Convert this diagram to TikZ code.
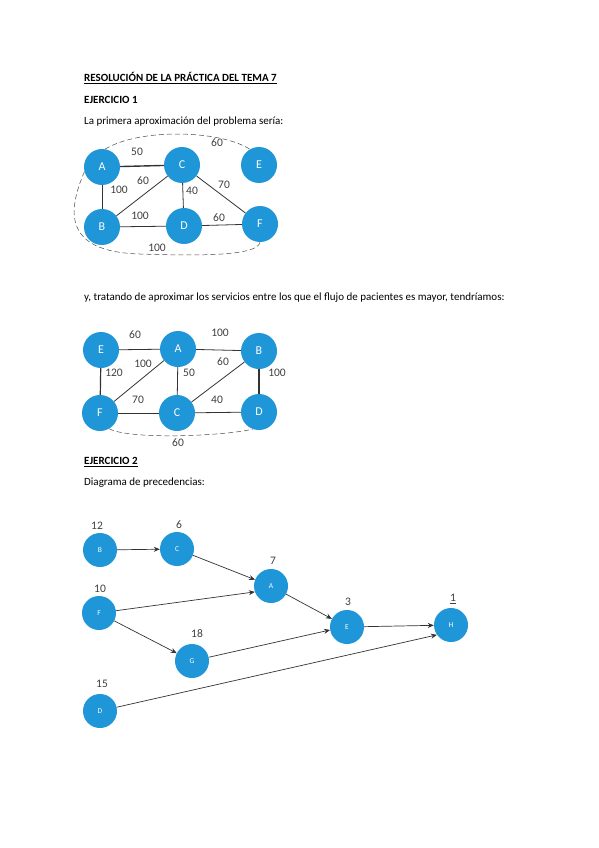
\documentclass[tikz,border=0pt]{standalone}
\usepackage{fontspec}
\setmainfont{Carlito}
\usetikzlibrary{arrows.meta}
\definecolor{nodeblue}{RGB}{30,150,215}
\begin{document}
\begin{tikzpicture}[x=1pt,y=-1pt,
  bignode/.style={circle, fill=nodeblue, minimum size=36pt, inner sep=0pt, text=white, font=\fontsize{12}{12}\selectfont},
  smallnode/.style={circle, fill=nodeblue, minimum size=34pt, inner sep=0pt, text=white, font=\fontsize{7.5}{7.5}\selectfont},
  edge/.style={draw=black!80, line width=0.8pt},
  lbl/.style={font=\fontsize{11.5}{11.5}\selectfont, text=black!75, inner sep=0pt},
  hdash/.style={draw=black!70, line width=0.5pt, dash pattern=on 5pt off 3pt},
  arr/.style={draw=black!80, line width=0.7pt, -{Stealth[length=6pt,width=5pt]}},
  txt/.style={anchor=west, inner sep=0pt, font=\fontsize{11}{13}\selectfont},
  btxt/.style={anchor=west, inner sep=0pt, font=\fontsize{11}{13}\selectfont\bfseries}]
\useasboundingbox[fill=white] (0,0) rectangle (599,848);

% texts
\node[btxt] (t1) at (84,78) {\underline{RESOLUCIÓN DE LA PRÁCTICA DEL TEMA 7}};
\node[btxt] (t2) at (84,100) {EJERCICIO 1};
\node[txt] (t3) at (84,122) {La primera aproximación del problema sería:};
\node[txt] (t4) at (84,298) {y, tratando de aproximar los servicios entre los que el flujo de pacientes es mayor, tendríamos:};
\node[btxt] (t5) at (84,462) {\underline{EJERCICIO 2}};
\node[txt] (t6) at (84,483) {Diagrama de precedencias:};

% graph 1
\node[bignode] (A1) at (102,167) {A};
\node[bignode] (C1) at (182,165) {C};
\node[bignode] (E1) at (259,165) {E};
\node[bignode] (B1) at (102,227) {B};
\node[bignode] (D1) at (184,226) {D};
\node[bignode] (F1) at (260,224) {F};
\draw[edge, line width=1.4pt] (A1) -- (C1);
\draw[edge] (A1) -- (B1);
\draw[edge] (B1) -- (C1);
\draw[edge] (C1) -- (D1);
\draw[edge] (C1) -- (F1);
\draw[edge] (B1) -- (D1);
\draw[edge] (D1) -- (F1);
\draw[hdash] (A1.80) .. controls (140,128) and (220,130) .. (E1.120);
\draw[hdash] (A1.195) .. controls (68,210) and (62,252) .. (140,254) .. controls (200,256) and (258,256) .. (F1.south);
\node[lbl] (l11) at (137,152) {50};
\node[lbl] (l12) at (217,143) {60};
\node[lbl] (l13) at (119,190) {100};
\node[lbl] (l14) at (143,181) {60};
\node[lbl] (l15) at (192,191) {40};
\node[lbl] (l16) at (224,185) {70};
\node[lbl] (l17) at (140,216) {100};
\node[lbl] (l18) at (219,218) {60};
\node[lbl] (l19) at (157,248) {100};

% graph 2
\node[bignode] (E2) at (101,350) {E};
\node[bignode] (A2) at (178,349) {A};
\node[bignode] (B2) at (259,351) {B};
\node[bignode] (F2) at (100,413) {F};
\node[bignode] (C2) at (177,413) {C};
\node[bignode] (D2) at (259,412) {D};
\draw[edge] (E2) -- (A2);
\draw[edge] (A2) -- (B2);
\draw[edge, line width=1.2pt] (E2) -- (F2);
\draw[edge] (F2) -- (A2);
\draw[edge] (A2) -- (C2);
\draw[edge] (C2) -- (B2);
\draw[edge, line width=1.4pt] (B2) -- (D2);
\draw[edge] (F2) -- (C2);
\draw[edge] (C2) -- (D2);
\draw[hdash] (F2.300) .. controls (130,440) and (225,436) .. (D2.250);
\node[lbl] (l21) at (135,335) {60};
\node[lbl] (l22) at (220,333) {100};
\node[lbl] (l23) at (114,373) {120};
\node[lbl] (l24) at (143,364) {100};
\node[lbl] (l25) at (189,373) {50};
\node[lbl] (l26) at (223,362) {60};
\node[lbl] (l27) at (277,373) {100};
\node[lbl] (l28) at (138,400) {70};
\node[lbl] (l29) at (217,400) {40};
\node[lbl] (l2a) at (178,443) {60};

% diagram 3
\node[smallnode] (B3) at (100,550) {B};
\node[smallnode] (C3) at (177,549) {C};
\node[smallnode] (A3) at (271,586) {A};
\node[smallnode] (F3) at (99,613) {F};
\node[smallnode] (E3) at (347,627) {E};
\node[smallnode] (H3) at (451,625) {H};
\node[smallnode] (G3) at (192,661) {G};
\node[smallnode] (D3) at (100,711) {D};
\node[lbl] (n1) at (97,526) {12};
\node[lbl] (n2) at (179,525) {6};
\node[lbl] (n3) at (273,561) {7};
\node[lbl] (n4) at (100,589) {10};
\node[lbl] (n5) at (197,634) {18};
\node[lbl] (n6) at (348,602) {3};
\node[lbl] (n7) at (453,599) {\underline{1}};
\node[lbl] (n8) at (102,684) {15};
\draw[arr] (B3) -- (C3);
\draw[arr] (C3) -- (A3);
\draw[arr] (F3) -- (A3.200);
\draw[arr] (F3) -- (G3);
\draw[arr] (A3) -- (E3);
\draw[arr] (G3) -- (E3.190);
\draw[arr] (E3) -- (H3);
\draw[arr] (D3) -- (H3.215);
\end{tikzpicture}
\end{document}
